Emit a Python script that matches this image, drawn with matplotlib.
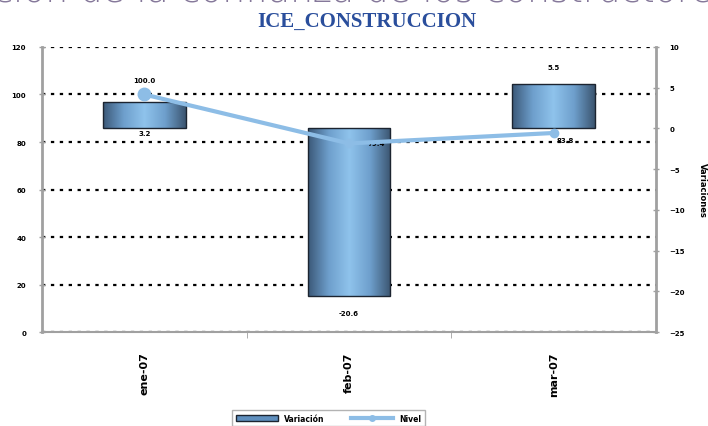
import numpy as np
import matplotlib
matplotlib.use("Agg")
from matplotlib import pyplot as plt
from matplotlib.colors import LinearSegmentedColormap
from matplotlib.patches import Patch
from matplotlib.lines import Line2D

meses = ["ene-07", "feb-07", "mar-07"]
variacion = [3.2, -20.6, 5.5]
nivel = [100.0, 79.4, 83.8]
ticks_izq = [0, 20, 40, 60, 80, 100, 120]
ticks_der = [-25, -20, -15, -10, -5, 0, 5, 10]

gris = "#a0a0a0"
azul_linea = "#8dbde6"
grad = LinearSegmentedColormap.from_list(
    "barra", ["#3b5878", "#6e9fcc", "#8fc3ec", "#6e9fcc", "#3b5570"])

fig = plt.figure(figsize=(7.08, 4.27), dpi=100)
ax = fig.add_axes([0.0593, 0.2201, 0.8673, 0.6675])
x = np.arange(len(meses))

# eje izquierdo: rejilla y escala del nivel
ax.set_xlim(-0.5, 2.5)
ax.set_ylim(0, 120)
ax.set_yticks(ticks_izq)
ax.yaxis.grid(True, color="black", linestyle=(0, (1.5, 2.5)), linewidth=1.6)
ax.set_axisbelow(True)
ax.tick_params(axis="y", labelsize=5, pad=9, colors=gris, labelcolor="black",
               direction="inout", length=5, width=1)
for t in ax.get_yticklabels():
    t.set_fontweight("bold")
ax.set_xticks(x)
ax.set_xticklabels(meses, rotation=90, fontsize=8, fontweight="bold")
ax.set_xticks([0.5, 1.5], minor=True)
ax.tick_params(axis="x", which="major", length=0, pad=14)
ax.tick_params(axis="x", which="minor", length=4, color=gris, direction="out")
for s in ["top", "right"]:
    ax.spines[s].set_visible(False)
ax.spines["left"].set_color(gris)
ax.spines["left"].set_linewidth(2)
ax.spines["bottom"].set_color(gris)
ax.spines["bottom"].set_linewidth(1.5)

# eje derecho: barras de variación
ax2 = ax.twinx()
ax2.set_ylim(-25, 10)
ax2.set_yticks(ticks_der)
ax2.tick_params(axis="y", labelsize=5, pad=7, colors=gris, labelcolor="black",
                direction="inout", length=5, width=1)
for t in ax2.get_yticklabels():
    t.set_fontweight("bold")
for s in ["top", "left", "bottom"]:
    ax2.spines[s].set_visible(False)
ax2.spines["right"].set_color(gris)
ax2.spines["right"].set_linewidth(2)
ax2.set_ylabel("Variaciones", rotation=270, fontsize=6, fontweight="bold", labelpad=16)

bars = ax2.bar(x, variacion, width=0.405, color="none", edgecolor="#1c2430",
               linewidth=1.0, zorder=3)
g = np.linspace(0, 1, 256).reshape(1, -1)
for b in bars:
    x0, y0 = b.get_x(), b.get_y()
    w, h = b.get_width(), b.get_height()
    im = ax2.imshow(g, cmap=grad, aspect="auto", zorder=2,
                    extent=[x0, x0 + w, min(y0, y0 + h), max(y0, y0 + h)])
    im.set_clip_path(b)
ax2.set_xlim(-0.5, 2.5)
ax2.set_ylim(-25, 10)

# etiquetas de variación
ax2.annotate(f"{variacion[0]:.1f}", (x[0], 0), xytext=(0, -1), textcoords="offset points",
             ha="center", va="top", fontsize=5, fontweight="bold")
ax2.annotate(f"{variacion[1]:.1f}", (x[1], variacion[1]), xytext=(0, -10),
             textcoords="offset points", ha="center", va="top", fontsize=5, fontweight="bold")
ax2.annotate(f"{variacion[2]:.1f}", (x[2], variacion[2]), xytext=(0, 10),
             textcoords="offset points", ha="center", va="bottom", fontsize=5, fontweight="bold")

# tercera capa: línea del nivel por encima de las barras
ax3 = ax.twinx()
ax3.set_ylim(0, 120)
ax3.set_xlim(-0.5, 2.5)
ax3.axis("off")
ax3.plot(x, nivel, color=azul_linea, linewidth=3, marker="o", markersize=9,
         markevery=[0], zorder=5)
ax3.plot(x[1:], nivel[1:], color=azul_linea, linestyle="none", marker="o", markersize=6)
ax3.annotate(f"{nivel[0]:.1f}", (x[0], nivel[0]), xytext=(0, 8), textcoords="offset points",
             ha="center", va="bottom", fontsize=5, fontweight="bold")
ax3.annotate(f"{nivel[1]:.1f}", (x[1], nivel[1]), xytext=(13, 0), textcoords="offset points",
             ha="left", va="center", fontsize=5, fontweight="bold")
ax3.annotate(f"{nivel[2]:.1f}", (x[2], nivel[2]), xytext=(2, -3), textcoords="offset points",
             ha="left", va="top", fontsize=5, fontweight="bold")

# títulos
fig.text(-0.15, 0.993, "Evolución de la confianza de los constructores", fontsize=26,
         color="#85789a", ha="left", va="baseline", fontweight="light")
fig.text(0.518, 0.937, "ICE_CONSTRUCCION", fontsize=15, fontweight="bold",
         family="Liberation Serif", color="#2a4e9c", ha="center", va="baseline")

handles = [Patch(facecolor="#5f8fbe", edgecolor="#1c2430", linewidth=1.0),
           Line2D([], [], color=azul_linea, linewidth=3, marker="o", markersize=4)]
leg = fig.legend(handles, ["Variación", "Nivel"], loc="upper center",
                 bbox_to_anchor=(0.464, 0.047), ncol=2, fontsize=5.5, frameon=True,
                 fancybox=False, edgecolor=gris, handlelength=5.5, columnspacing=3.5,
                 borderpad=0.5)
for t in leg.get_texts():
    t.set_fontweight("bold")

fig.savefig("out.png", dpi=100)
